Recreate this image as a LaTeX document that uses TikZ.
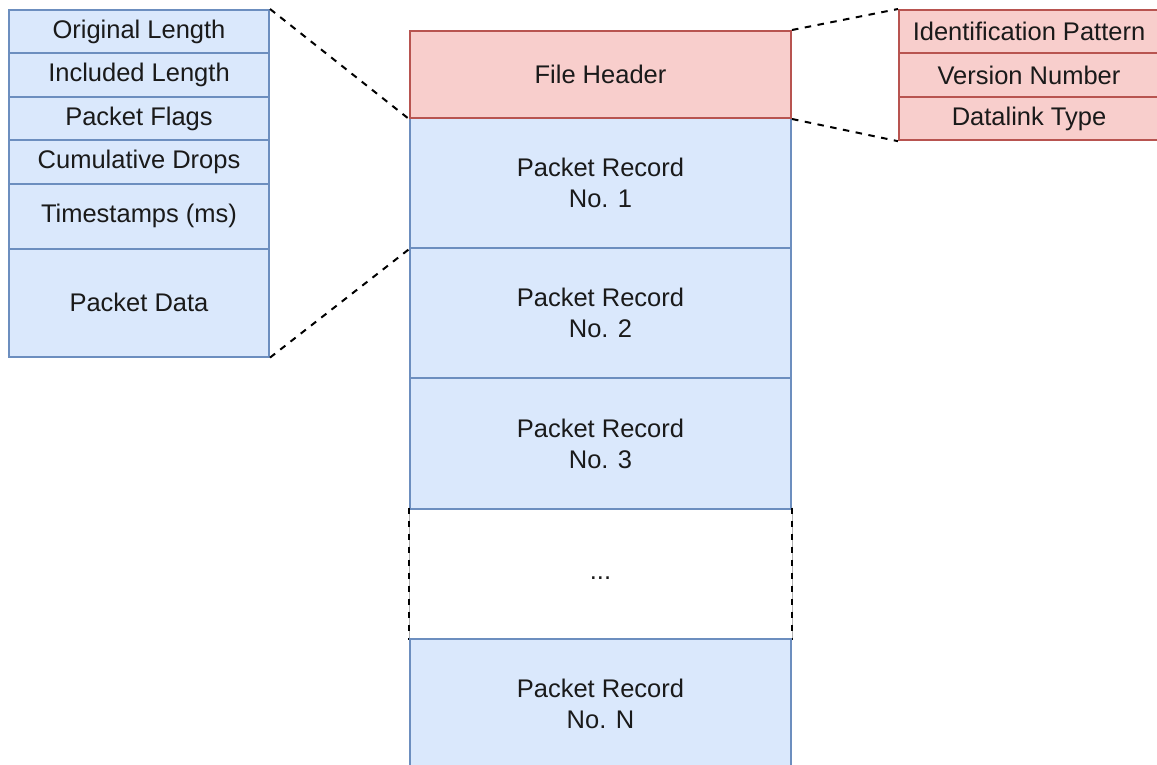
\documentclass[tikz,border=0pt]{standalone}
\usepackage{fontspec}
\setmainfont{Liberation Sans}
\definecolor{bfill}{HTML}{DAE8FC}
\definecolor{bstroke}{HTML}{6C8EBF}
\definecolor{rfill}{HTML}{F8CECC}
\definecolor{rstroke}{HTML}{B85450}
\definecolor{txt}{HTML}{1A1A1A}
\newcommand{\diagfont}{\fontsize{25.5}{31}\selectfont}
\begin{document}
\begin{tikzpicture}[x=1pt,y=-1pt,
  cell/.style={draw, line width=2pt, inner sep=0pt, anchor=north west, align=center, font=\diagfont, text=txt},
  bluecell/.style={cell, fill=bfill, draw=bstroke},
  redcell/.style={cell, fill=rfill, draw=rstroke},
  zoomline/.style={draw=black, line width=2pt, dash pattern=on 6.5pt off 6.5pt},
]
\useasboundingbox (0,0) rectangle (1157,765);
\clip (0,0) rectangle (1157,765);
% left stack
\node[bluecell, minimum width=260pt, minimum height=43.4pt] (ol) at (8,9) {Original Length};
\node[bluecell, minimum width=260pt, minimum height=43.4pt] (il) at (8,52.4) {Included Length};
\node[bluecell, minimum width=260pt, minimum height=43.4pt] (pf) at (8,95.8) {Packet Flags};
\node[bluecell, minimum width=260pt, minimum height=43.4pt] (cd) at (8,139.2) {Cumulative Drops};
\node[bluecell, minimum width=260pt, minimum height=65.1pt] (ts) at (8,182.6) {Timestamps (ms)};
\node[bluecell, minimum width=260pt, minimum height=107.9pt] (pd) at (8,247.7) {Packet Data};
% center column
\node[bluecell, minimum width=381pt, minimum height=130.2pt] (pr1) at (409,117) {Packet Record\\No. 1};
\node[bluecell, minimum width=381pt, minimum height=130.2pt] (pr2) at (409,247.2) {Packet Record\\No. 2};
\node[bluecell, minimum width=381pt, minimum height=130.2pt] (pr3) at (409,377.4) {Packet Record\\No. 3};
\node[cell, draw=none, minimum width=381pt, minimum height=130.2pt] (dots) at (409,507.6) {\vphantom{Pg}...};
\draw[gray!60, line width=0.8pt] (dots.north west) -- (dots.south west);
\draw[gray!60, line width=0.8pt] (dots.north east) -- (dots.south east);
\draw[zoomline] (dots.north west) -- (dots.south west);
\draw[zoomline] (dots.north east) -- (dots.south east);
\node[bluecell, minimum width=381pt, minimum height=130.2pt] (prn) at (409,637.8) {Packet Record\\No. N};
\node[redcell, minimum width=381pt, minimum height=87pt] (fh) at (409,30) {File Header};
% right stack
\node[redcell, minimum width=260pt, minimum height=43.4pt] (ip) at (898,9) {Identification Pattern};
\node[redcell, minimum width=260pt, minimum height=43.4pt] (vn) at (898,52.4) {Version Number};
\node[redcell, minimum width=260pt, minimum height=43.4pt] (dt) at (898,95.8) {Datalink Type};
% zoom connectors
\draw[zoomline] (ol.north east) -- (fh.south west);
\draw[zoomline] (pd.south east) -- (pr1.south west);
\draw[zoomline] (fh.north east) -- (ip.north west);
\draw[zoomline] (fh.south east) -- (dt.south west);
\end{tikzpicture}
\end{document}
